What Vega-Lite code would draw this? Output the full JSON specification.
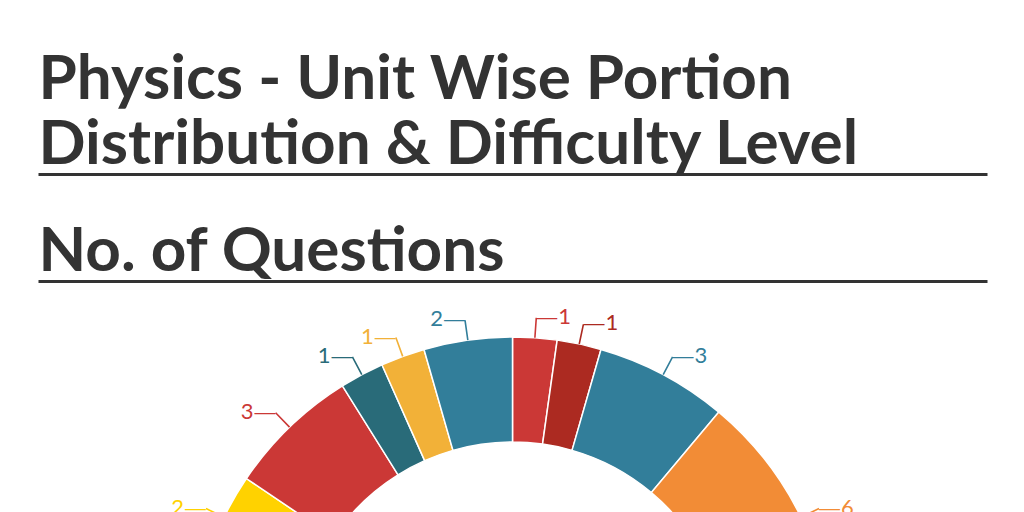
{
  "$schema": "https://vega.github.io/schema/vega-lite/v6.json",
  "width": 949,
  "height": 754,
  "autosize": "none",
  "padding": {"left": 38, "top": 281, "right": 37, "bottom": 0},
  "background": "white",
  "data": {
    "values": [
      {"idx": 1, "unit": "Unit 1", "count": 1},
      {"idx": 2, "unit": "Unit 2", "count": 1},
      {"idx": 3, "unit": "Unit 3", "count": 3},
      {"idx": 4, "unit": "Unit 4", "count": 6},
      {"idx": 5, "unit": "Unit 5", "count": 4},
      {"idx": 6, "unit": "Unit 6", "count": 5},
      {"idx": 7, "unit": "Unit 7", "count": 3},
      {"idx": 8, "unit": "Unit 8", "count": 4},
      {"idx": 9, "unit": "Unit 9", "count": 5},
      {"idx": 10, "unit": "Unit 10", "count": 4},
      {"idx": 11, "unit": "Unit 11", "count": 2},
      {"idx": 12, "unit": "Unit 12", "count": 3},
      {"idx": 13, "unit": "Unit 13", "count": 1},
      {"idx": 14, "unit": "Unit 14", "count": 1},
      {"idx": 15, "unit": "Unit 15", "count": 2}
    ]
  },
  "encoding": {
    "theta": {"field": "count", "type": "quantitative", "stack": true},
    "order": {"field": "idx", "type": "quantitative"},
    "color": {
      "field": "unit",
      "type": "nominal",
      "legend": null,
      "scale": {
        "domain": ["Unit 1", "Unit 2", "Unit 3", "Unit 4", "Unit 5", "Unit 6", "Unit 7", "Unit 8", "Unit 9", "Unit 10", "Unit 11", "Unit 12", "Unit 13", "Unit 14", "Unit 15"],
        "range": ["#cb3836", "#ac2a21", "#327e9a", "#f28c36", "#296b79", "#327e9a", "#ac2a21", "#f2b138", "#cb3836", "#327e9a", "#ffd200", "#cb3836", "#296b79", "#f2b138", "#327e9a"]
      }
    }
  },
  "layer": [
    {
      "mark": {"type": "tick", "opacity": 0},
      "encoding": {
        "theta": null, "order": null, "color": null,
        "x": {
          "field": "count", "type": "quantitative",
          "axis": {
            "orient": "top", "domain": true, "domainColor": "#333", "domainWidth": 3,
            "ticks": false, "labels": false, "grid": false,
            "title": "No. of Questions",
            "titleFont": "Lato", "titleFontSize": 62, "titleFontWeight": "bold", "titleColor": "#333",
            "titleAnchor": "start", "titleAlign": "left", "titleBaseline": "alphabetic", "titlePadding": 11
          }
        }
      }
    },
    {
      "mark": {"type": "tick", "opacity": 0},
      "encoding": {
        "theta": null, "order": null, "color": null,
        "x": {
          "field": "idx", "type": "quantitative",
          "axis": {
            "orient": "top", "offset": 107, "domain": true, "domainColor": "#333", "domainWidth": 3,
            "ticks": false, "labels": false, "grid": false,
            "title": ["Physics - Unit Wise Portion", "Distribution & Difficulty Level"],
            "titleFont": "Lato", "titleFontSize": 62, "titleFontWeight": "bold", "titleColor": "#333",
            "titleLineHeight": 65,
            "titleAnchor": "start", "titleAlign": "left", "titleBaseline": "alphabetic", "titlePadding": 11
          }
        }
      }
    },
    {
      "mark": {"type": "arc", "outerRadius": 321, "innerRadius": 216, "stroke": "white", "strokeWidth": 1.5}
    },
    {
      "mark": {"type": "arc", "outerRadius": 341, "innerRadius": 321, "padAngle": 3, "filled": false, "strokeWidth": 1.6}
    },
    {
      "mark": {"type": "text", "radius": 341, "align": "left", "baseline": "middle", "font": "Liberation Sans", "fontSize": 21, "text": "—"},
      "encoding": {"opacity": {"condition": {"test": "datum.idx <= 7", "value": 1}, "value": 0}}
    },
    {
      "mark": {"type": "text", "radius": 341, "align": "right", "baseline": "middle", "font": "Liberation Sans", "fontSize": 21, "text": "—"},
      "encoding": {"opacity": {"condition": {"test": "datum.idx >= 8", "value": 1}, "value": 0}}
    },
    {
      "mark": {"type": "text", "radius": 341, "align": "left", "baseline": "middle", "dx": 22, "dy": -1, "font": "Lato", "fontSize": 22},
      "encoding": {
        "text": {"field": "count", "type": "quantitative"},
        "opacity": {"condition": {"test": "datum.idx <= 7", "value": 1}, "value": 0}
      }
    },
    {
      "mark": {"type": "text", "radius": 341, "align": "right", "baseline": "middle", "dx": -22, "dy": -1, "font": "Lato", "fontSize": 22},
      "encoding": {
        "text": {"field": "count", "type": "quantitative"},
        "opacity": {"condition": {"test": "datum.idx >= 8", "value": 1}, "value": 0}
      }
    }
  ],
  "resolve": {"scale": {"x": "independent"}},
  "config": {"view": {"stroke": null}}
}
